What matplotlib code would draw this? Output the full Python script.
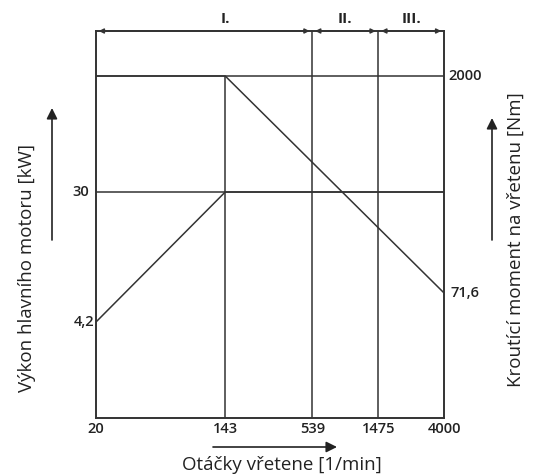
import matplotlib
matplotlib.use("Agg")
import matplotlib.pyplot as plt

plt.rcParams['font.family'] = ['Open Sans', 'DejaVu Sans']

# Data
speed_ticks = [20, 143, 539, 1475, 4000]
speed_tick_labels = ["20", "143", "539", "1475", "4000"]
speeds = [20, 143, 4000]
power_kw = [4.2, 30, 30]
torque_nm = [2000, 2000, 71.6]
range_bounds = [20, 539, 1475, 4000]
range_labels = ["I.", "II.", "III."]
range_label_pos = [143, 891, 2429]

W, H = 535, 476
fig = plt.figure(figsize=(W / 100, H / 100), dpi=100)
fig.patch.set_facecolor('white')

L, R, T, B = 96, 444, 31, 418
ax = fig.add_axes([L / W, 1 - B / H, (R - L) / W, (B - T) / H])
col = '#333333'
lw = 1.1

ax.set_xscale('log')
ax.set_yscale('log')
ax.set_xlim(20, 4000)
ax.set_ylim(0.983, 342.7)
ax2 = ax.twinx()
ax2.set_yscale('log')
ax2.set_ylim(10.5, 3990)

for a in (ax, ax2):
    for s in a.spines.values():
        s.set_color(col)
        s.set_linewidth(1.2)
    a.minorticks_off()
    a.tick_params(length=0)

# curves
ax.plot(speeds, power_kw, color=col, lw=lw)
ax.axhline(30, color=col, lw=lw)
ax2.plot(speeds, torque_nm, color=col, lw=lw)
ax2.axhline(2000, color=col, lw=lw)
ax2.vlines(143, 10.5, 2000, color=col, lw=lw)
ax.axvline(539, color=col, lw=lw)
ax.axvline(1475, color=col, lw=lw)

tick_fs = 10.5
# ticks
ax.set_xticks(speed_ticks)
ax.set_xticklabels(speed_tick_labels)
ax.tick_params(axis='x', pad=3, labelsize=tick_fs, colors='#222222')
for t in ax.get_xticklabels():
    t.set_fontweight('semibold')
ax.set_yticks([])
ax2.set_yticks([])

ax.text(-0.02, 30, "30", transform=ax.get_yaxis_transform(), ha='right', va='center',
        fontsize=tick_fs, fontweight='semibold', color='#222222')
ax.text(-0.004, 4.2, "4,2", transform=ax.get_yaxis_transform(), ha='right', va='center',
        fontsize=tick_fs, fontweight='semibold', color='#222222')
ax2.text(1.012, 2000, "2000", transform=ax2.get_yaxis_transform(), ha='left', va='center',
         fontsize=tick_fs, fontweight='semibold', color='#222222')
ax2.text(1.02, 71.6, "71,6", transform=ax2.get_yaxis_transform(), ha='left', va='center',
         fontsize=tick_fs, fontweight='semibold', color='#222222')

# range dimension arrows on top edge
for i in range(3):
    ax.annotate('', xy=(range_bounds[i + 1], 1.0), xytext=(range_bounds[i], 1.0),
                xycoords=('data', 'axes fraction'), textcoords=('data', 'axes fraction'),
                arrowprops=dict(arrowstyle='<|-|>', color=col, lw=1.1, mutation_scale=7,
                                shrinkA=2, shrinkB=2), annotation_clip=False)
    ax.text(range_label_pos[i], 1.0 + 12 / (B - T), range_labels[i],
            transform=ax.get_xaxis_transform(), ha='center', va='center',
            fontsize=11, fontweight='bold', color='#222222')

# axis labels
lab_fs = 13.5
fig.text(27 / W, 1 - 268 / H, "Výkon hlavního motoru [kW]", rotation=90,
         ha='center', va='center', fontsize=lab_fs, color='#222222')
fig.text(516 / W, 1 - 240 / H, "Kroutící moment na vřetenu [Nm]", rotation=90,
         ha='center', va='center', fontsize=lab_fs, color='#222222')
fig.text(282 / W, 1 - 465 / H, "Otáčky vřetene [1/min]",
         ha='center', va='center', fontsize=lab_fs, color='#222222')

# decorative direction arrows
def farrow(x0, y0, x1, y1):
    fig.add_artist(matplotlib.patches.FancyArrowPatch(
        (x0 / W, 1 - y0 / H), (x1 / W, 1 - y1 / H), transform=fig.transFigure,
        arrowstyle='-|>', mutation_scale=16, color='#222222', lw=1.2,
        shrinkA=0, shrinkB=0))

farrow(52, 240, 52, 108)
farrow(492, 240, 492, 118)
farrow(213, 447, 337, 447)

fig.savefig("out.png", dpi=100, facecolor='white')
